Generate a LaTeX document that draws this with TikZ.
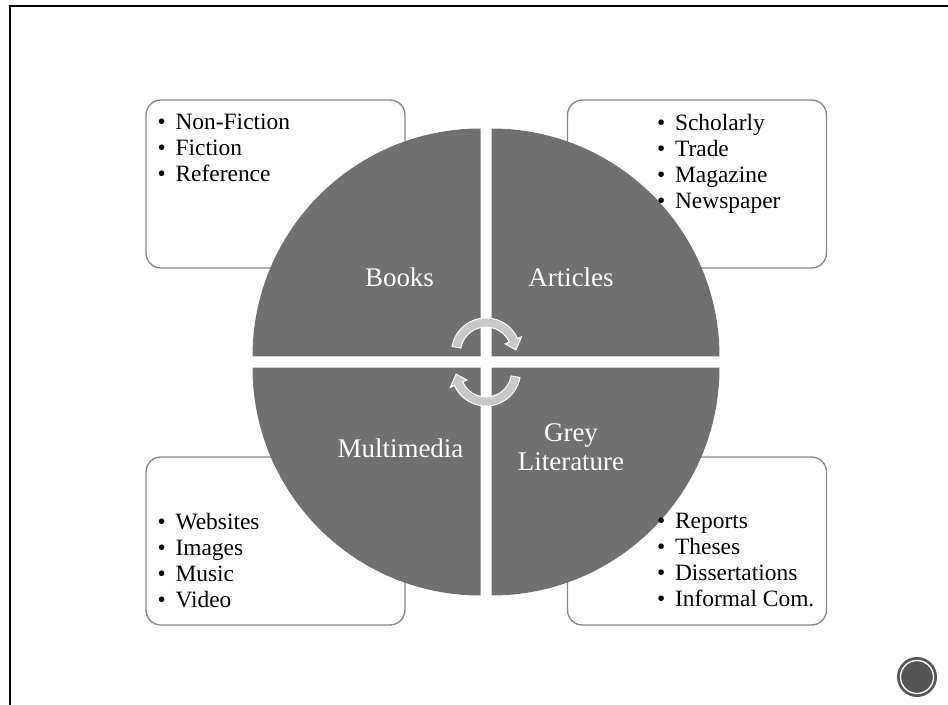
\documentclass[tikz,border=0pt]{standalone}
\usepackage{fontspec}
\setmainfont{Liberation Serif}
\usepackage{tikz}
\usetikzlibrary{positioning, calc}
\definecolor{piegray}{RGB}{112, 112, 112}
\definecolor{boxgray}{RGB}{135, 135, 135}
\definecolor{arrowgray}{RGB}{200, 200, 200}
\definecolor{logogray}{RGB}{85, 85, 85}
\newcommand{\bul}{\makebox[5.4mm][l]{\textbullet}}
\tikzset{
    listbox/.style={draw=boxgray, line width=0.4mm, fill=white, rounded corners=4.5mm, minimum width=77.7mm, minimum height=50.4mm},
    listtext/.style={align=left, inner sep=0pt, font=\fontsize{20}{22.2}\selectfont},
    quadrant/.style={fill=piegray},
    quadlabel/.style={text=white, align=center, font=\fontsize{23}{25}\selectfont},
    turnarrow/.style={fill=arrowgray, draw=white, line width=0.3mm}
}

\begin{document}
\begin{tikzpicture}[x=0.3mm, y=-0.3mm]
    \useasboundingbox (0,0) rectangle (948,705);
    % frame
    \draw[line width=0.6mm] (9.5,705) -- (9.5,6) -- (948,6);
    % boxes behind the pie
    \node[listbox] (booksBox) at (275.5,184) {};
    \node[listbox] (articlesBox) at (697,184) {};
    \node[listbox] (mediaBox) at (275.5,541) {};
    \node[listbox] (greyBox) at (697,541) {};
    % pie
    \coordinate (hub) at (486,362);
    \foreach \sx/\sy/\a in {-5.5/-5.5/180, 5.5/-5.5/270, -5.5/5.5/90, 5.5/5.5/0}
        \fill[quadrant] ($(hub)+(\sx,\sy)$) -- ++(\a:228) arc[start angle=\a, end angle=\a+90, radius=228] -- cycle;
    % turning arrows
    \foreach \r in {0,180}
        \path[turnarrow, rotate around={\r:(hub)}, shift={(486,352.5)}]
            (-170:34.5) arc[start angle=-170, end angle=-24, radius=34.5]
            -- (-24:39) -- (-5:30) -- (-24:21)
            -- (-24:25.5) arc[start angle=-24, end angle=-170, radius=25.5] -- cycle;
    % labels
    \node[quadlabel] (booksLabel) at (399.5,277) {Books};
    \node[quadlabel] (articlesLabel) at (571,277) {Articles};
    \node[quadlabel] (mediaLabel) at (400.5,448) {Multimedia};
    \node[quadlabel] (greyLabel) at (571,447.5) {Grey\\Literature};
    % lists
    \node[listtext, below right=4.3mm and 3.6mm of booksBox.north west] (booksList)
        {\bul Non-Fiction\\ \bul Fiction\\ \bul Reference};
    \node[listtext, below right=4.3mm and 27mm of articlesBox.north west] (articlesList)
        {\bul Scholarly\\ \bul Trade\\ \bul Magazine\\ \bul Newspaper};
    \node[listtext, below right=16.9mm and 3.6mm of mediaBox.north west] (mediaList)
        {\bul Websites\\ \bul Images\\ \bul Music\\ \bul Video};
    \node[listtext, below right=16.9mm and 27mm of greyBox.north west] (greyList)
        {\bul Reports\\ \bul Theses\\ \bul Dissertations\\ \bul Informal Com.};
    % logo
    \node[circle, fill=logogray, minimum size=12mm, inner sep=0pt] (logo) at (917,677) {};
    \node[circle, draw=white, line width=0.4mm, minimum size=9.9mm, inner sep=0pt] (logoRing) at (logo) {};
\end{tikzpicture}
\end{document}
